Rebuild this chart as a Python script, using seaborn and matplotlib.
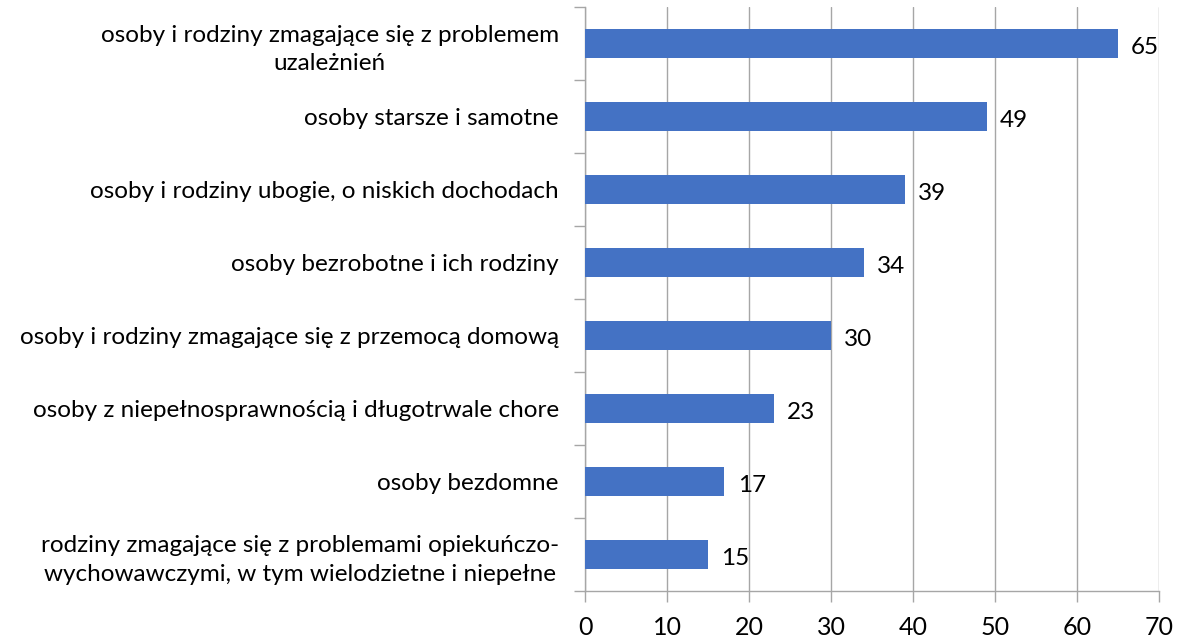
import matplotlib
matplotlib.use("Agg")
import matplotlib.pyplot as plt
import seaborn as sns
import pandas as pd
import numpy as np

categories = [
    "osoby i rodziny zmagające się z problemem\nuzależnień",
    "osoby starsze i samotne",
    "osoby i rodziny ubogie, o niskich dochodach",
    "osoby bezrobotne i ich rodziny",
    "osoby i rodziny zmagające się z przemocą domową",
    "osoby z niepełnosprawnością i długotrwale chore",
    "osoby bezdomne",
    "rodziny zmagające się z problemami opiekuńczo-\nwychowawczymi, w tym wielodzietne i niepełne",
]
values = [65, 49, 39, 34, 30, 23, 17, 15]
x_ticks = [0, 10, 20, 30, 40, 50, 60, 70]

sns.set_theme(style="white")
plt.rcParams['font.family'] = ['Lato', 'DejaVu Sans']

df = pd.DataFrame({"cat": categories, "val": values})

fig = plt.figure(figsize=(11.8, 6.38), dpi=100)
ax = fig.add_axes([0.4958, 0.0737, 0.9822 - 0.4958, 0.989 - 0.0737])

sns.barplot(data=df, y="cat", x="val", orient="h", color="#4472C4",
            width=0.4, saturation=1, ax=ax, zorder=3, linewidth=0)

ax.set_xlim(0, 70)
ax.set_ylim(len(categories) - 0.5, -0.5)
ax.set_xticks(x_ticks)
ax.set_xticklabels([str(t) for t in x_ticks], fontsize=18, color="#000000")
ax.tick_params(axis="x", direction="out", length=8, width=1, color="#a6a6a6", pad=10, bottom=True)

ax.set_yticks(range(len(categories)))
ax.set_yticklabels(categories, fontsize=17.5, color="#000000", multialignment="center",
                   linespacing=1.45)
ax.tick_params(axis="y", which="major", length=0, pad=19)
ax.set_yticks(np.arange(-0.5, len(categories), 1), minor=True)
ax.tick_params(axis="y", which="minor", direction="out", length=8, width=1, color="#a6a6a6", left=True)

ax.grid(axis="x", color="#a6a6a6", linewidth=1, zorder=0)
ax.set_axisbelow(True)
for s in ["top", "right"]:
    ax.spines[s].set_visible(False)
for s in ["left", "bottom"]:
    ax.spines[s].set_color("#a6a6a6")
    ax.spines[s].set_linewidth(1)
ax.set_xlabel("")
ax.set_ylabel("")

for i, v in enumerate(values):
    ax.text(v + 1.6, i + 0.05, str(v), va="center", ha="left", fontsize=17.5, color="#000000")

fig.savefig("out.png", dpi=100)
